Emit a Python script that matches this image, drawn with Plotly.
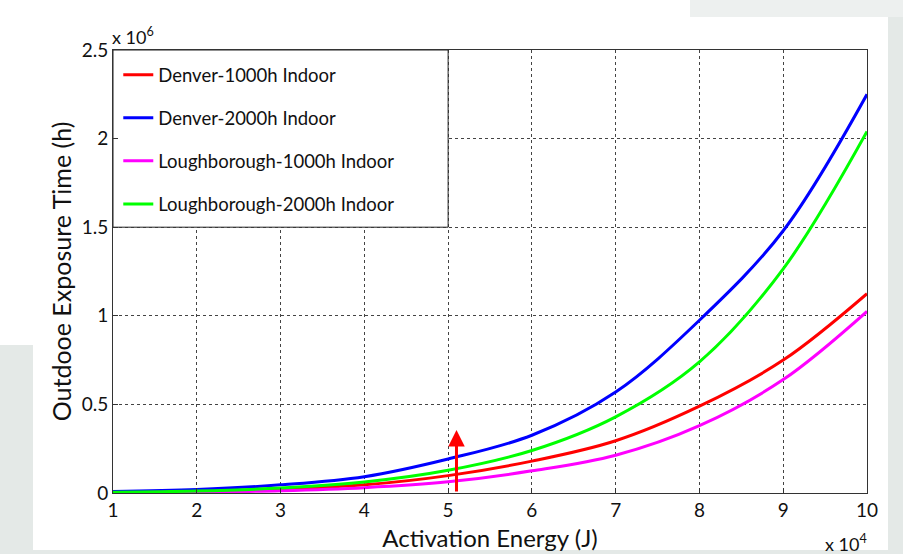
import plotly.graph_objects as go

# Activation energy (x 10^4 J)
energy = [1, 2, 3, 4, 5, 6, 7, 8, 9, 10]
# Outdoor exposure time (x 10^6 h)
denver_1000 = [0.004, 0.009, 0.022, 0.046, 0.098, 0.18, 0.295, 0.49, 0.75, 1.125]
denver_2000 = [0.008, 0.020, 0.046, 0.092, 0.192, 0.326, 0.57, 0.975, 1.48, 2.25]
lough_1000 = [0.002, 0.005, 0.013, 0.030, 0.063, 0.125, 0.213, 0.38, 0.64, 1.025]
lough_2000 = [0.004, 0.011, 0.028, 0.062, 0.128, 0.24, 0.43, 0.74, 1.265, 2.04]

series_names = ["Denver-1000h Indoor", "Denver-2000h Indoor",
                "Loughborough-1000h Indoor", "Loughborough-2000h Indoor"]
series_vals = [denver_1000, denver_2000, lough_1000, lough_2000]
series_cols = ["#ff0000", "#0000ff", "#ff00ff", "#00ff00"]

x_ticks = [1, 2, 3, 4, 5, 6, 7, 8, 9, 10]
y_ticks = [0, 0.5, 1, 1.5, 2, 2.5]
y_tick_text = ["0", "0.5", "1", "1.5", "2", "2.5"]

arrow_x = 5.1
arrow_top = 0.355

FONT = "Lato, 'Open Sans', sans-serif"

fig = go.Figure()
for name, vals, col in zip(series_names, series_vals, series_cols):
    fig.add_trace(go.Scatter(
        x=energy, y=vals, name=name, mode="lines",
        line=dict(color=col, width=3, shape="spline"),
        legendgroup=name,
    ))

W, H = 903, 554
L, R, T, B = 113, 36, 50, 61
pw, ph = W - L - R, H - T - B


def px(x):
    return (x - L) / pw


def py(y):
    return (H - B - y) / ph


gray = "#e4e9e7"
shapes = [
    # slide background strips
    dict(type="rect", xref="paper", yref="paper", x0=px(0), x1=px(33), y0=py(554), y1=py(345),
         fillcolor=gray, line=dict(width=0), layer="below"),
    dict(type="rect", xref="paper", yref="paper", x0=px(888), x1=px(903), y0=py(554), y1=py(0),
         fillcolor=gray, line=dict(width=0), layer="below"),
    dict(type="rect", xref="paper", yref="paper", x0=px(690), x1=px(903), y0=py(17), y1=py(0),
         fillcolor="#edf0ef", line=dict(width=0), layer="below"),
    dict(type="rect", xref="paper", yref="paper", x0=px(0), x1=px(903), y0=py(554), y1=py(550),
         fillcolor=gray, line=dict(width=0), layer="below"),
    # legend box
    dict(type="rect", xref="x", yref="y", x0=1, x1=5.0, y0=1.5, y1=2.5,
         fillcolor="white", line=dict(color="#222222", width=1), layer="between"),
]

annotations = [
    dict(x=arrow_x, y=arrow_top, ax=arrow_x, ay=0, xref="x", yref="y", axref="x", ayref="y",
         text="", showarrow=True, arrowhead=2, arrowsize=1.1, arrowwidth=3,
         arrowcolor="#ff0000", standoff=0, startstandoff=0),
    dict(x=0, y=1, xref="paper", yref="paper", xanchor="left", yanchor="bottom",
         text="x 10<sup>6</sup>", showarrow=False, yshift=0, xshift=-3,
         font=dict(family=FONT, size=18, color="#111111")),
    dict(x=1, y=0, xref="paper", yref="paper", xanchor="right", yanchor="top",
         text="x 10<sup>4</sup>", showarrow=False, yshift=-36, xshift=2,
         font=dict(family=FONT, size=18, color="#111111")),
]

axis_common = dict(
    showline=True, linecolor="#333333", linewidth=1, mirror=True,
    ticks="inside", ticklen=5, tickcolor="#333333",
    showgrid=True, gridcolor="#444444", griddash="dot", gridwidth=1,
    zeroline=False, automargin=False,
    tickfont=dict(family=FONT, size=19, color="#111111"),
)

fig.update_layout(
    width=W, height=H,
    margin=dict(l=L, r=R, t=T, b=B, pad=0, autoexpand=False),
    paper_bgcolor="white", plot_bgcolor="white",
    font=dict(family=FONT, color="#111111"),
    shapes=shapes, annotations=annotations,
    showlegend=True,
    legend=dict(
        x=0.007, y=0.986, xanchor="left", yanchor="top",
        bgcolor="rgba(0,0,0,0)", borderwidth=0,
        font=dict(family=FONT, size=18.5, color="#111111"),
        traceorder="grouped", tracegroupgap=16, itemwidth=30,
    ),
    xaxis=dict(
        range=[1, 10], tickvals=x_ticks, ticktext=[str(v) for v in x_ticks],
        title=dict(text="Activation Energy (J)", font=dict(family=FONT, size=24), standoff=10),
        **axis_common,
    ),
    yaxis=dict(
        range=[0, 2.5], tickvals=y_ticks, ticktext=y_tick_text,
        title=dict(text="Outdooe Exposure Time (h)", font=dict(family=FONT, size=25), standoff=2),
        **axis_common,
    ),
)

fig.write_html("out.html", config={"displayModeBar": False},
               post_script="document.body.style.margin='0';document.body.style.padding='0';")
